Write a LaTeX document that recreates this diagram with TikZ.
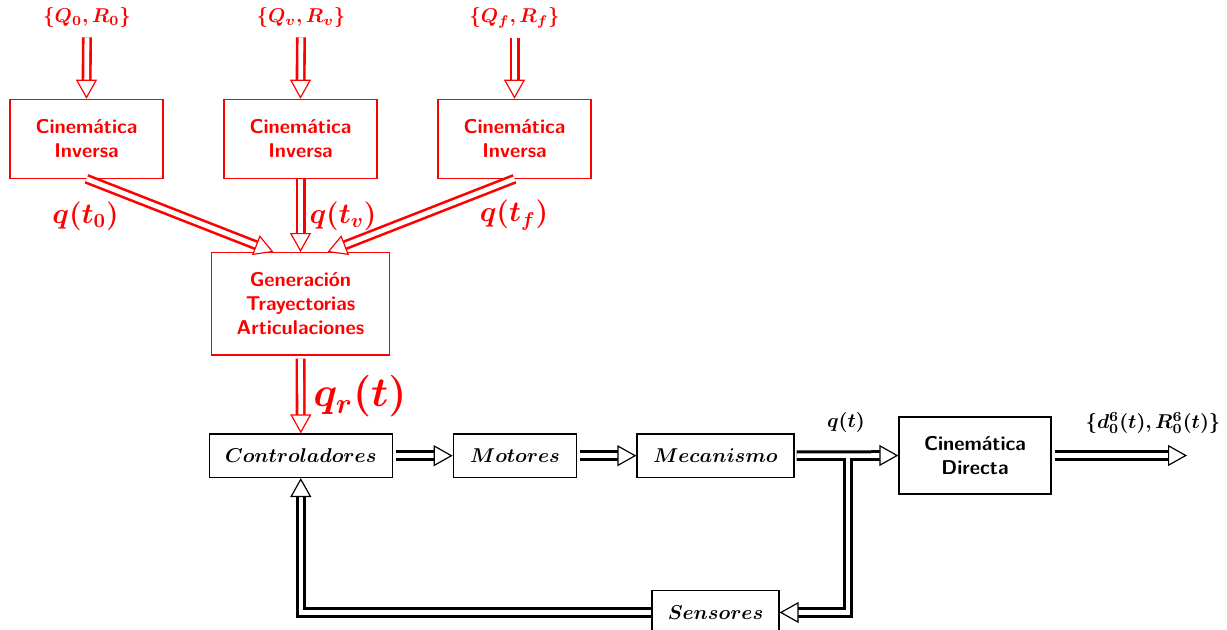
\documentclass[tikz,border=0pt]{standalone}
\usepackage{bm}
\usetikzlibrary{arrows.meta,calc}
\begin{document}
\begin{tikzpicture}[x=0.5pt,y=-0.5pt,
  rbox/.style={draw=red, text=red, line width=0.55pt, font=\sffamily\bfseries, align=center, inner sep=0pt},
  kbox/.style={draw=black, line width=0.65pt, inner sep=0pt, minimum height=21.7pt},
  kbox2/.style={draw=black, line width=0.65pt, inner sep=0pt, font=\sffamily\bfseries, align=center},
  dbl/.style={double, line width=1.3pt, double distance=2.4pt, shorten >=9pt},
  kdbl/.style={double, line width=1.5pt, double distance=2.3pt, shorten >=9pt},
  tip/.style={line width=0.6pt, -{Triangle[fill=white, length=9.5pt, width=10.5pt]}},
  rlab/.style={text=red, inner sep=1pt},
  klab/.style={text=black, inner sep=1pt},
]
\useasboundingbox (0,0) rectangle (1227,630);

% top inputs
\node[rlab] (l1) at (87,18) {$\bm{\{Q_0,R_0\}}$};
\node[rlab] (l2) at (301,18) {$\bm{\{Q_v,R_v\}}$};
\node[rlab] (l3) at (514.5,18) {$\bm{\{Q_f,R_f\}}$};

% inverse kinematics boxes
\node[rbox, minimum width=76.5pt, minimum height=39.5pt] (ci1) at (86.5,138.8) {Cinemática\\Inversa};
\node[rbox, minimum width=76.5pt, minimum height=39.5pt] (ci2) at (300.5,138.8) {Cinemática\\Inversa};
\node[rbox, minimum width=76.5pt, minimum height=39.5pt] (ci3) at (514.5,138.8) {Cinemática\\Inversa};

% trajectory generation
\node[rbox, minimum width=88.8pt, minimum height=51.2pt] (gen) at (300.5,303.8) {Generación\\Trayectorias\\Articulaciones};

% lower chain
\node[kbox, minimum width=91.5pt] (con) at (300.8,455.7) {$\bm{Controladores}$};
\node[kbox, minimum width=61.7pt] (mot) at (515,455.7) {$\bm{Motores}$};
\node[kbox, minimum width=78.5pt] (mec) at (715.5,455.7) {$\bm{Mecanismo}$};
\node[kbox2, minimum width=76pt, minimum height=38.5pt] (cd) at (975,455.5) {Cinemática\\Directa};
\node[kbox, minimum width=63.5pt] (sen) at (715.5,612.5) {$\bm{Sensores}$};

\coordinate (out) at (1187,455.5);
\coordinate (br) at (848,458);

% labels
\node[rlab, font=\Large] (lq0) at (85.5,216) {$\bm{q(t_0)}$};
\node[rlab, font=\Large] (lqv) at (343,216) {$\bm{q(t_v)}$};
\node[rlab, font=\Large] (lqf) at (514,215) {$\bm{q(t_f)}$};
\node[rlab, font=\huge] (lqr) at (360,396.5) {$\bm{q_r(t)}$};
\node[klab] (lqt) at (846,423) {$\bm{q(t)}$};
\node[klab] (lout) at (1153,423) {$\bm{\{d_0^6(t),R_0^6(t)\}}$};

% red arrows
\begin{scope}[red]
\draw[dbl, shorten <=3.5pt] (l1.south) -- (ci1.north);
\draw[tip] ($(ci1.north)+(0,2pt)$) -- (ci1.north);
\draw[dbl, shorten <=3.5pt] (l2.south) -- (ci2.north);
\draw[tip] ($(ci2.north)+(0,2pt)$) -- (ci2.north);
\draw[dbl, shorten <=3.5pt] (l3.south) -- (ci3.north);
\draw[tip] ($(ci3.north)+(0,2pt)$) -- (ci3.north);
\draw[dbl] (ci1.south) -- ([xshift=-13.5pt]gen.north);
\draw[tip] ($([xshift=-13.5pt]gen.north)!2pt!(ci1.south)$) -- ([xshift=-13.5pt]gen.north);
\draw[dbl] (ci2.south) -- (gen.north);
\draw[tip] ($(gen.north)+(0,2pt)$) -- (gen.north);
\draw[dbl] (ci3.south) -- ([xshift=13.5pt]gen.north);
\draw[tip] ($([xshift=13.5pt]gen.north)!2pt!(ci3.south)$) -- ([xshift=13.5pt]gen.north);
\draw[dbl, shorten <=1.5pt] (gen.south) -- (con.north);
\draw[tip] ($(con.north)+(0,2pt)$) -- (con.north);
\end{scope}

% black arrows
\draw[kdbl, shorten <=1.5pt] (con.east) -- (mot.west);
\draw[tip] ($(mot.west)+(-2pt,0)$) -- (mot.west);
\draw[kdbl, shorten <=1.5pt] (mot.east) -- (mec.west);
\draw[tip] ($(mec.west)+(-2pt,0)$) -- (mec.west);
\draw[kdbl, shorten <=1pt] (mec.east) -- (cd.west);
\draw[tip] ($(cd.west)+(-2pt,0)$) -- (cd.west);
\draw[kdbl, shorten <=1.5pt] (cd.east) -- (out);
\draw[tip] ($(out)+(-2pt,0)$) -- (out);
\draw[kdbl] (br) |- (sen.east);
\draw[tip] ($(sen.east)+(2pt,0)$) -- (sen.east);
\draw[kdbl] (sen.west) -| (con.south);
\draw[tip] ($(con.south)+(0,-2pt)$) -- (con.south);
\end{tikzpicture}
\end{document}
